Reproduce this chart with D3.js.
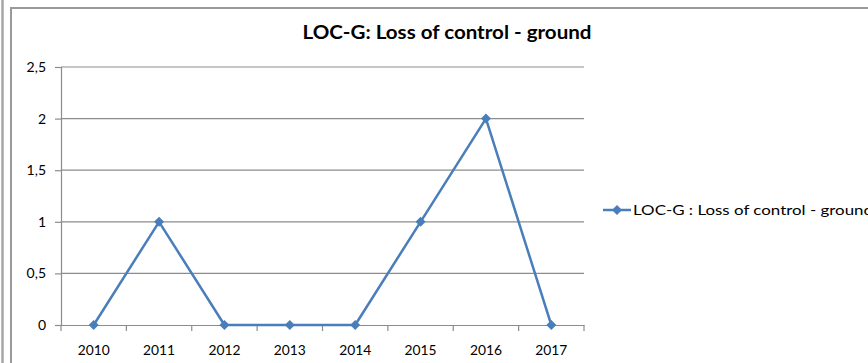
<!DOCTYPE html>
<html><head><meta charset="utf-8">
<script src="https://cdn.jsdelivr.net/npm/d3@7"></script>
<style>
html,body{margin:0;padding:0;background:#fff;overflow:hidden;}
svg{display:block;}
</style></head>
<body>
<svg id="c" width="868" height="363"></svg>
<script>
const years = ["2010","2011","2012","2013","2014","2015","2016","2017"];
const values = [0,1,0,0,0,1,2,0];
const yTicks = [0,0.5,1,1.5,2,2.5];
const seriesName = "LOC-G : Loss of control - ground";
const chartTitle = "LOC-G: Loss of control - ground";

const svg = d3.select("#c");
const font = "Lato,'Open Sans',sans-serif";
const blue = "#4A7EBB";

// outer frames
svg.append("line").attr("x1",2.5).attr("x2",2.5).attr("y1",0).attr("y2",363).attr("stroke","#a6a6a6").attr("stroke-width",2.5);
svg.append("rect").attr("x",11).attr("y",8).attr("width",900).attr("height",400).attr("fill","#fff").attr("stroke","#9a9a9a").attr("stroke-width",2);

const x = d3.scaleBand().domain(years).range([61,584]).padding(0);
const y = d3.scaleLinear().domain([0,2.5]).range([325,67]);
const loc = d3.formatLocale({decimal:",",thousands:".",grouping:[3],currency:["",""]});
const fmt = v => Number.isInteger(v) ? String(v) : loc.format(".1f")(v);

// gridlines
svg.append("g").selectAll("line").data(yTicks.filter(t=>t>0)).join("line")
  .attr("x1",61).attr("x2",584).attr("y1",d=>y(d)).attr("y2",d=>y(d))
  .attr("stroke","#8c8c8c").attr("stroke-width",1.2);

// y axis
const ya = svg.append("g").attr("transform","translate(61,0)")
  .call(d3.axisLeft(y).tickValues(yTicks).tickFormat(fmt).tickSize(6).tickPadding(9));
ya.selectAll("path,line").attr("stroke","#8c8c8c").attr("stroke-width",1.2);
ya.selectAll("text").attr("font-family",font).attr("font-size",14).attr("fill","#000");

// x axis
const xa = svg.append("g").attr("transform","translate(0,325)")
  .call(d3.axisBottom(x).tickSize(0).tickPadding(20));
xa.select("path").attr("stroke","#8c8c8c").attr("stroke-width",1.2);
xa.selectAll("text").attr("font-family",font).attr("font-size",14).attr("fill","#000")
  .attr("textLength",32).attr("lengthAdjust","spacingAndGlyphs");
const bounds = years.map(d=>x(d)).concat([x.range()[1]]);
svg.append("g").selectAll("line").data(bounds).join("line")
  .attr("x1",d=>d).attr("x2",d=>d).attr("y1",325).attr("y2",331)
  .attr("stroke","#8c8c8c").attr("stroke-width",1.2);

// line
const px = d => x(d) + x.bandwidth()/2;
const data = years.map((d,i)=>({k:d,v:values[i]}));
svg.append("path").datum(data)
  .attr("d", d3.line().x(d=>px(d.k)).y(d=>y(d.v)))
  .attr("fill","none").attr("stroke",blue).attr("stroke-width",2.5).attr("stroke-linejoin","round");
const diamond = d3.symbol().type(d3.symbolDiamond2).size(64);
svg.append("g").selectAll("path").data(data).join("path")
  .attr("transform",d=>`translate(${px(d.k)},${y(d.v)})`)
  .attr("d",diamond).attr("fill",blue);

// title
svg.append("text").attr("x",447).attr("y",39).attr("text-anchor","middle")
  .attr("font-family",font).attr("font-weight","bold").attr("font-size",19)
  .attr("textLength",289).attr("lengthAdjust","spacingAndGlyphs").attr("fill","#000")
  .text(chartTitle);

// legend
const lg = svg.append("g").attr("transform","translate(603,210)");
lg.append("line").attr("x1",0).attr("x2",28).attr("y1",0).attr("y2",0).attr("stroke",blue).attr("stroke-width",2.5);
lg.append("path").attr("transform","translate(14,0)").attr("d",diamond).attr("fill",blue);
lg.append("text").attr("x",30).attr("y",5).attr("font-family",font).attr("font-size",14)
  .attr("textLength",240).attr("lengthAdjust","spacingAndGlyphs").attr("fill","#000").text(seriesName);
</script>
</body></html>
